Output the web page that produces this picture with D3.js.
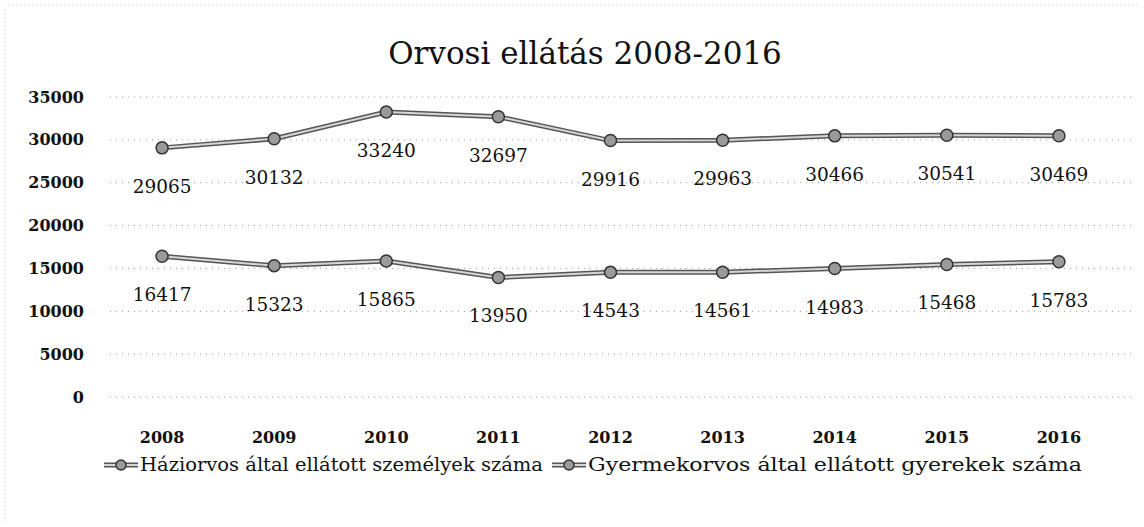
<!DOCTYPE html>
<meta charset="utf-8">
<style>
body { margin: 0; background: #fff; }
text { font-family: "DejaVu Serif", serif; fill: #111; }
.grid line { stroke: #9a9a9a; stroke-width: 1; stroke-dasharray: 1 5; }
.axis text { font-weight: bold; font-size: 16px; }
.label { font-size: 18.5px; }
</style>
<svg width="1144" height="527"></svg>
<script src="https://d3js.org/d3.v7.min.js"></script>
<script>

// data
var years = ["2008", "2009", "2010", "2011", "2012", "2013", "2014", "2015", "2016"];
var haziorvos = [29065, 30132, 33240, 32697, 29916, 29963, 30466, 30541, 30469];
var gyermekorvos = [16417, 15323, 15865, 13950, 14543, 14561, 14983, 15468, 15783];
var yTicks = [0, 5000, 10000, 15000, 20000, 25000, 30000, 35000];
var seriesNames = ["Háziorvos által ellátott személyek száma", "Gyermekorvos által ellátott gyerekek száma"];

var svg = d3.select("svg"),
    width = +svg.attr("width"),
    height = +svg.attr("height");

// faint scanned frame, top and left edges only
svg.append("path")
    .attr("d", "M5," + (height - 5) + "V5H" + (width - 5))
    .attr("fill", "none")
    .attr("stroke", "#c8c8c8")
    .attr("stroke-dasharray", "1 3");

var x = d3.scalePoint()
    .domain(years)
    .range([106, 1115])
    .padding(0.5);

var y = d3.scaleLinear()
    .domain([0, 35000])
    .range([397, 97]);

svg.append("text")
    .attr("x", 585).attr("y", 64)
    .attr("text-anchor", "middle")
    .style("font-size", "31px")
    .text("Orvosi ellátás 2008-2016");

// gridlines
svg.append("g")
    .attr("class", "grid")
  .selectAll("line")
  .data(yTicks)
  .enter().append("line")
    .attr("x1", 110).attr("x2", 1132)
    .attr("y1", function(d) { return y(d); })
    .attr("y2", function(d) { return y(d); });

// y axis labels
svg.append("g")
    .attr("class", "axis")
  .selectAll("text")
  .data(yTicks)
  .enter().append("text")
    .attr("x", 84)
    .attr("y", function(d) { return y(d); })
    .attr("dy", "0.35em")
    .attr("text-anchor", "end")
    .text(function(d) { return d; });

// x axis labels
svg.append("g")
    .attr("class", "axis")
  .selectAll("text")
  .data(years)
  .enter().append("text")
    .attr("x", function(d) { return x(d); })
    .attr("y", 443)
    .attr("text-anchor", "middle")
    .text(function(d) { return d; });

var line = d3.line()
    .x(function(d, i) { return x(years[i]); })
    .y(function(d) { return y(d); });

function drawSeries(values) {
  var g = svg.append("g");
  g.append("path")
      .attr("d", line(values))
      .attr("fill", "none")
      .attr("stroke", "#555")
      .attr("stroke-width", 5);
  g.append("path")
      .attr("d", line(values))
      .attr("fill", "none")
      .attr("stroke", "#d6d6d6")
      .attr("stroke-width", 2);
  g.selectAll("circle")
    .data(values)
    .enter().append("circle")
      .attr("cx", function(d, i) { return x(years[i]); })
      .attr("cy", function(d) { return y(d); })
      .attr("r", 6)
      .attr("fill", "#9a9a9a")
      .attr("stroke", "#333")
      .attr("stroke-width", 1.5);
  g.selectAll("text")
    .data(values)
    .enter().append("text")
      .attr("class", "label")
      .attr("x", function(d, i) { return x(years[i]); })
      .attr("y", function(d) { return y(d) + 45; })
      .attr("text-anchor", "middle")
      .text(function(d) { return d; });
}

drawSeries(haziorvos);
drawSeries(gyermekorvos);

// legend
var legendX = [104, 552];
var legendW = [403, 494];
seriesNames.forEach(function(name, i) {
  var lg = svg.append("g").attr("transform", "translate(" + legendX[i] + ",465)");
  lg.append("line").attr("x1", 0).attr("x2", 34).attr("stroke", "#555").attr("stroke-width", 5);
  lg.append("line").attr("x1", 0).attr("x2", 34).attr("stroke", "#d6d6d6").attr("stroke-width", 2);
  lg.append("circle").attr("cx", 17).attr("r", 5)
      .attr("fill", "#9a9a9a").attr("stroke", "#333").attr("stroke-width", 1.5);
  lg.append("text")
      .attr("x", 36).attr("dy", "0.35em")
      .attr("textLength", legendW[i])
      .attr("lengthAdjust", "spacingAndGlyphs")
      .style("font-size", "18px")
      .text(name);
});

</script>
